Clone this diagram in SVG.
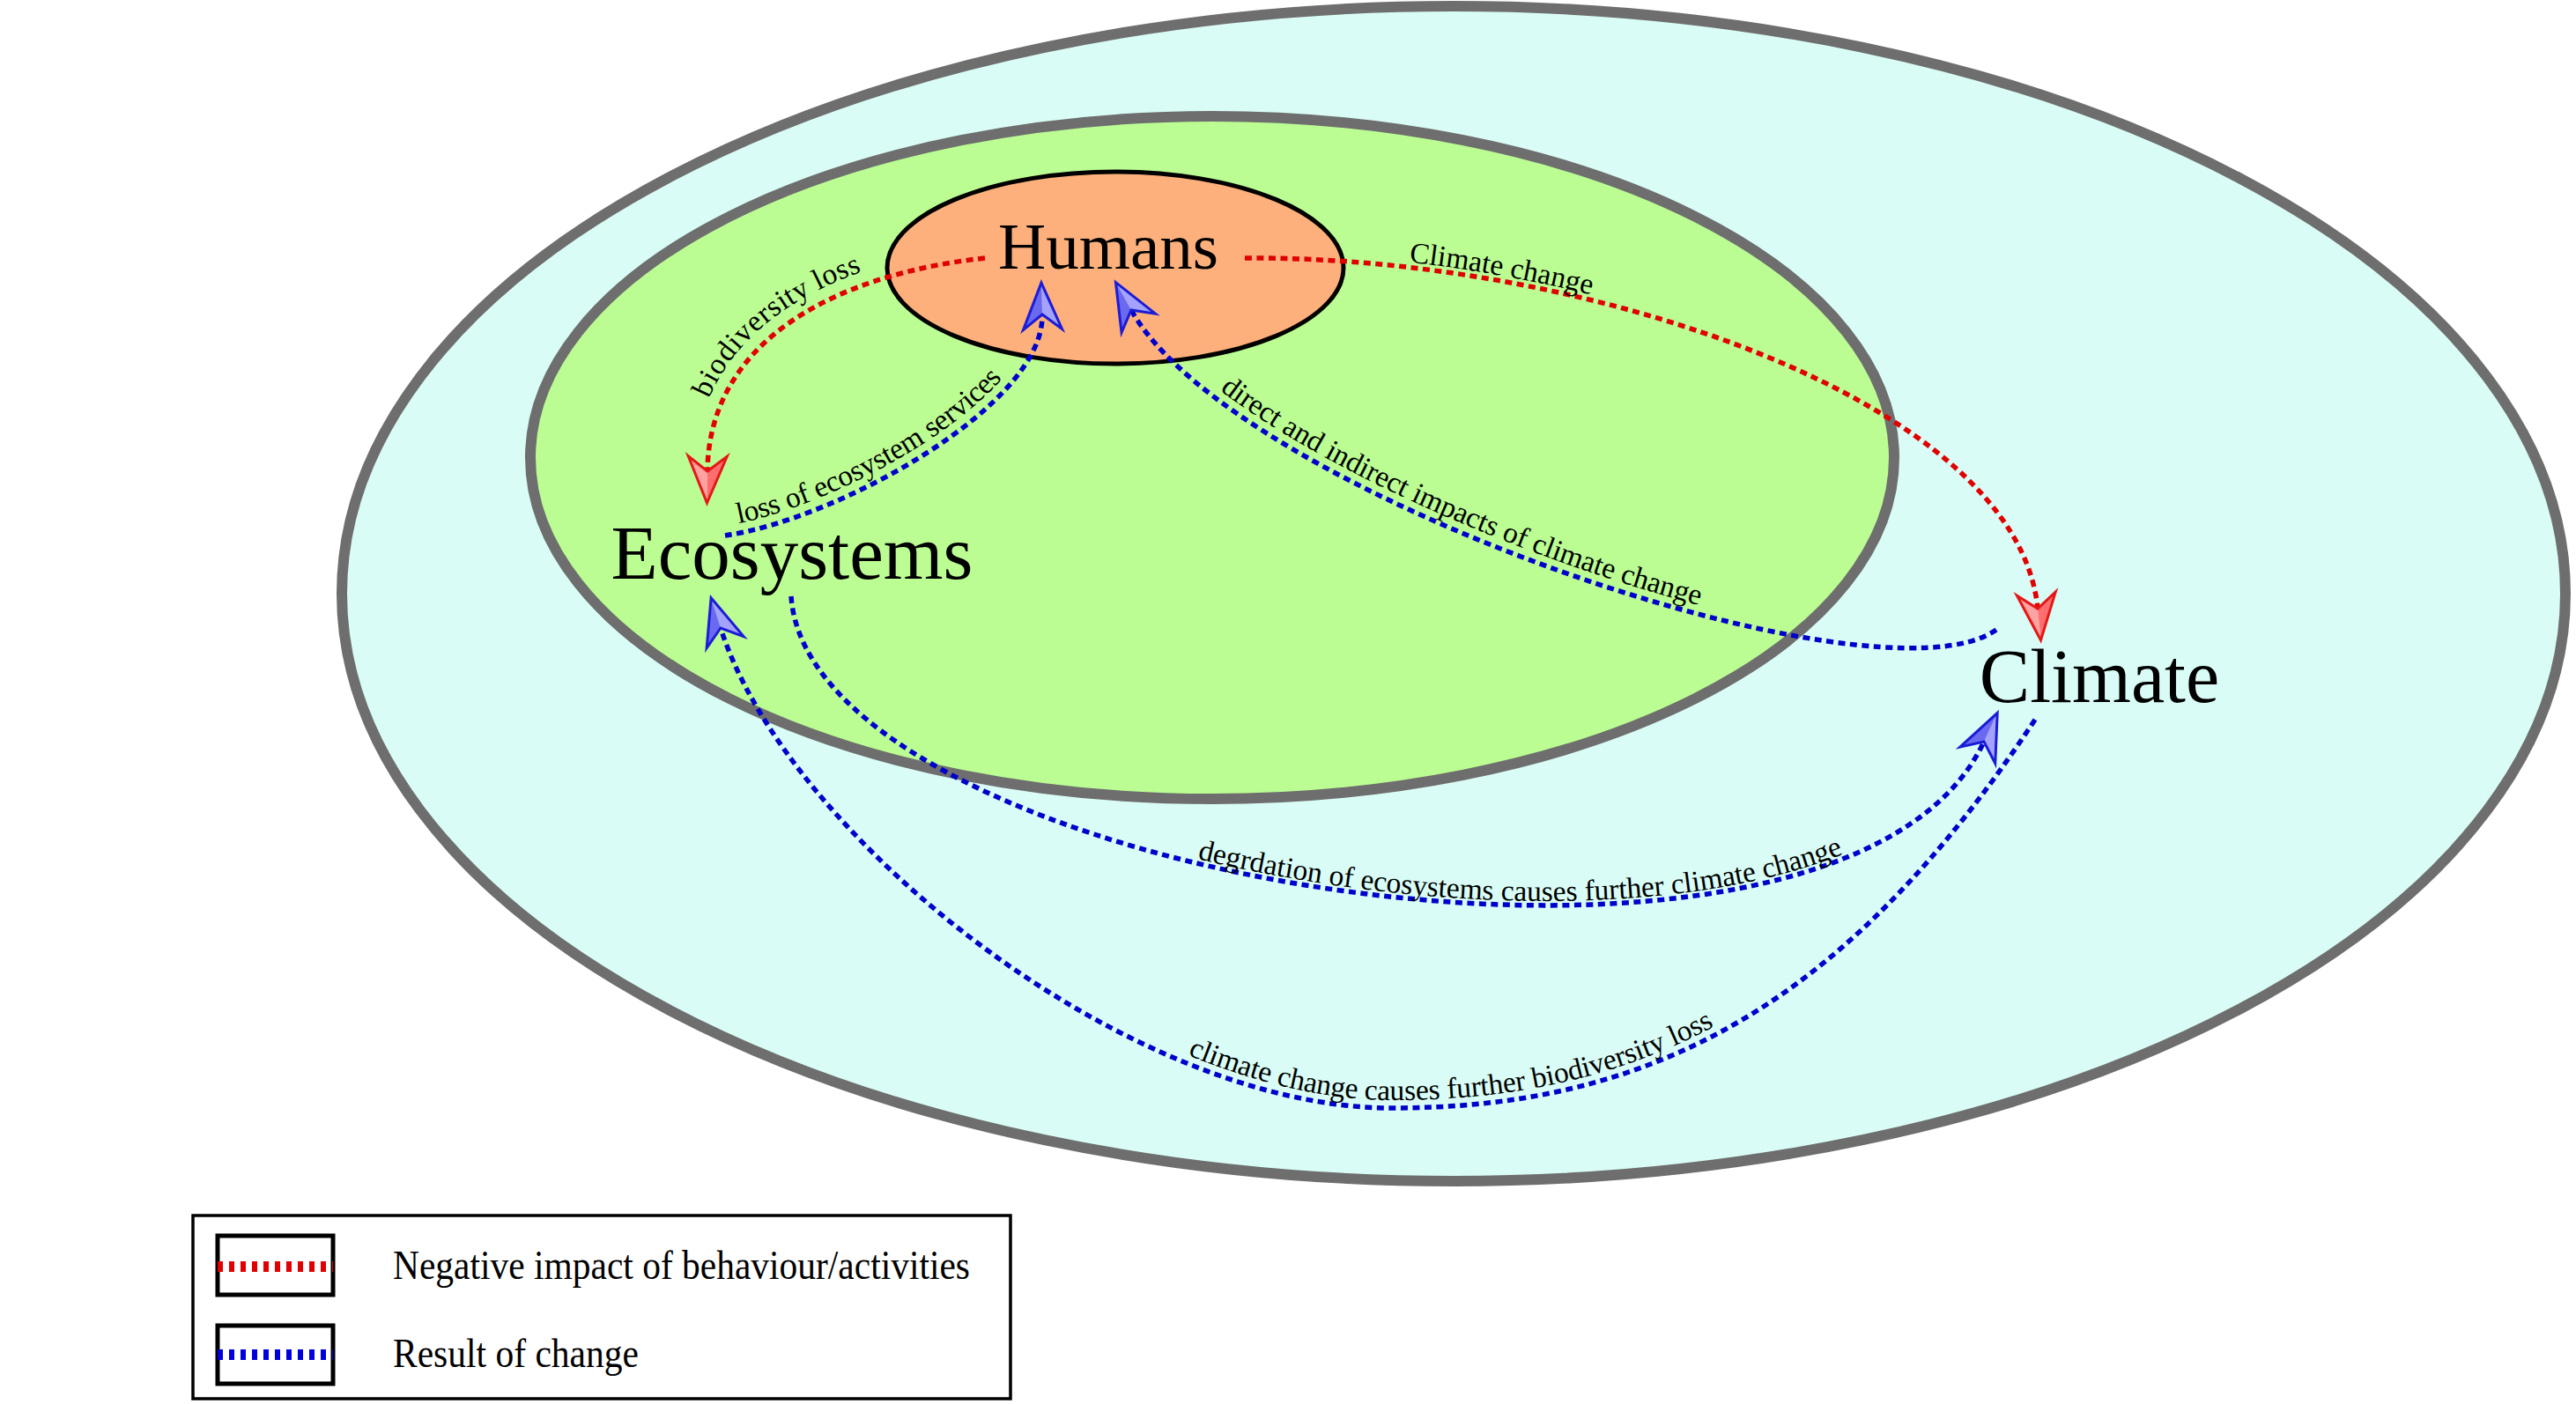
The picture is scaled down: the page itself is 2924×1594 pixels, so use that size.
<svg xmlns="http://www.w3.org/2000/svg" width="2924" height="1594" viewBox="0 0 2924 1594">
<style>
.ring{stroke:#6e6e6e;stroke-width:12}
.title{font-family:"Liberation Serif","Times New Roman",serif;fill:#000;text-anchor:middle}
.lbl{font-family:"Liberation Serif","Times New Roman",serif;font-size:33.5px;fill:#000}
.leg{font-family:"Liberation Serif","Times New Roman",serif;font-size:47px;fill:#000}
.red{fill:none;stroke:#e00000;stroke-width:5.5;stroke-dasharray:8 5.5}
.blue{fill:none;stroke:#0000cc;stroke-width:5.5;stroke-dasharray:8 5.5}
</style>
<defs>
<marker id="ah-red" markerUnits="userSpaceOnUse" markerWidth="80" markerHeight="80" refX="0" refY="0" orient="auto" overflow="visible">
<path d="M36,0 L-17,22 L0,0 Z" fill="#ffa2a2"/>
<path d="M36,0 L-17,-22 L0,0 Z" fill="#ff6e6e"/>
<path d="M36,0 L-17,-22 L0,0 L-17,22 Z" fill="none" stroke="#e41818" stroke-width="3" stroke-dasharray="none" stroke-linejoin="miter"/>
</marker>
<marker id="ah-blue" markerUnits="userSpaceOnUse" markerWidth="80" markerHeight="80" refX="0" refY="0" orient="auto" overflow="visible">
<path d="M36,0 L-17,22 L0,0 Z" fill="#a3a3ff"/>
<path d="M36,0 L-17,-22 L0,0 Z" fill="#6a6af0"/>
<path d="M36,0 L-17,-22 L0,0 L-17,22 Z" fill="none" stroke="#1c1cd8" stroke-width="3" stroke-dasharray="none" stroke-linejoin="miter"/>
</marker>
<path id="p-cc" d="M1413,293 C1800,290 2290,455 2313,691"/>
<path id="p-bl-r" d="M803,535 C805,380 960,310 1118,293"/>
<path id="p-es" d="M823,608 C950,590 1186,460 1183,357"/>
<path id="p-di-r" d="M1284,352 C1400,560 2130,810 2266,715"/>
<path id="p-dg" d="M898,677 C920,1000 2090,1190 2252,842"/>
<path id="p-cb-r" d="M818,713 C893,950 1280,1258 1580,1258 C1880,1258 2098,1137 2310,817"/>
</defs>
<rect x="0" y="0" width="2924" height="1594" fill="#ffffff"/>
<g id="node-climate">
<ellipse cx="1650" cy="674" rx="1262" ry="667" fill="#d9fdf6" class="ring"/>
<text class="title" x="2383" y="797" font-size="86">Climate</text>
</g>
<g id="node-ecosystems">
<ellipse cx="1376" cy="519.5" rx="774" ry="387.5" fill="#bbfd93" class="ring"/>
<text class="title" x="899" y="657" font-size="87">Ecosystems</text>
</g>
<g id="node-humans">
<ellipse cx="1266" cy="304" rx="259" ry="109" fill="#fdb07b" stroke="#000" stroke-width="5"/>
<text class="title" x="1258" y="305" font-size="75">Humans</text>
</g>
<g id="connectors">
<path class="red" d="M1413,293 C1800,290 2290,455 2313,691" marker-end="url(#ah-red)"/>
<path class="red" d="M1118,293 C960,310 805,380 803,535" marker-end="url(#ah-red)"/>
<path class="blue" d="M823,608 C950,590 1186,460 1183,357" marker-end="url(#ah-blue)"/>
<path class="blue" d="M2266,715 C2130,810 1400,560 1284,352" marker-end="url(#ah-blue)"/>
<path class="blue" d="M898,677 C920,1000 2090,1190 2252,842" marker-end="url(#ah-blue)"/>
<path class="blue" d="M2310,817 C2098,1137 1880,1258 1580,1258 C1280,1258 893,950 818,713" marker-end="url(#ah-blue)"/>
<text class="lbl"><textPath href="#p-cc" startOffset="186"><tspan dy="-6">Climate change</tspan></textPath></text>
<text class="lbl"><textPath href="#p-bl-r" startOffset="78"><tspan dy="-15">biodiversity loss</tspan></textPath></text>
<text class="lbl"><textPath href="#p-es" startOffset="18"><tspan dy="-11">loss of ecosystem services</tspan></textPath></text>
<text class="lbl"><textPath href="#p-di-r" startOffset="138"><tspan dy="-10">direct and indirect impacts of climate change</tspan></textPath></text>
<text class="lbl"><textPath href="#p-dg" startOffset="580"><tspan dy="-5">degrdation of ecosystems causes further climate change</tspan></textPath></text>
<text class="lbl"><textPath href="#p-cb-r" startOffset="740"><tspan dy="-9">climate change causes further biodiversity loss</tspan></textPath></text>
</g>
<g id="legend">
<rect x="219" y="1380" width="928" height="208" fill="#ffffff" stroke="#000" stroke-width="3.5"/>
<rect x="247" y="1403" width="131" height="67" fill="#ffffff" stroke="#000" stroke-width="5"/>
<line x1="247" y1="1438" x2="378" y2="1438" stroke="#e00000" stroke-width="12" stroke-dasharray="6 7"/>
<rect x="247" y="1505" width="131" height="66" fill="#ffffff" stroke="#000" stroke-width="5"/>
<line x1="247" y1="1538" x2="378" y2="1538" stroke="#0000dd" stroke-width="12" stroke-dasharray="6 7"/>
<text class="leg" x="446" y="1452" textLength="655" lengthAdjust="spacingAndGlyphs">Negative impact of behaviour/activities</text>
<text class="leg" x="446" y="1552" textLength="279" lengthAdjust="spacingAndGlyphs">Result of change</text>
</g>
</svg>
